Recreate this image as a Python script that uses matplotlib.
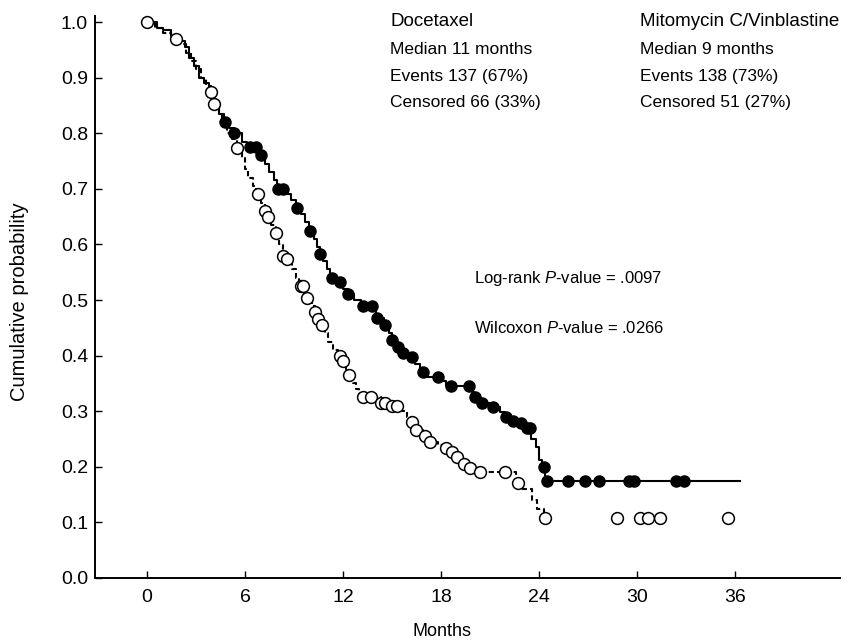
# Kaplan-Meier style survival plot, docetaxel vs mitomycin C/vinblastine
import numpy as np
import matplotlib
matplotlib.use('Agg')
import matplotlib.pyplot as plt

plt.rcParams['font.family'] = ['Liberation Sans', 'DejaVu Sans']
plt.rcParams['mathtext.fontset'] = 'custom'
plt.rcParams['mathtext.rm'] = 'Liberation Sans'
plt.rcParams['mathtext.it'] = 'Liberation Sans:italic'

# Docetaxel: step times (months) and survival from that time on
doc_t = [0, 0.6, 1.0, 1.5, 2.0, 2.3, 2.6, 2.9, 3.2, 3.5, 3.8, 4.1, 4.4, 4.7, 5.0,
         5.3, 5.8, 6.1, 6.9, 7.2, 7.5, 7.8, 7.95, 8.5, 8.8, 9.1, 9.4, 9.7, 9.9,
         10.2, 10.4, 10.6, 10.8, 11.0, 11.2, 11.5, 12.0, 12.3, 12.7, 13.1, 13.9,
         14.0, 14.5, 14.8, 15.0, 15.3, 15.6, 16.0, 16.4, 16.7, 17.0, 18.0, 18.3,
         19.9, 20.0, 20.4, 21.0, 21.6, 21.9, 22.3, 22.8, 23.2, 23.5, 23.8, 24.0,
         24.2, 24.4]
doc_s = [1.0, 0.99, 0.985, 0.975, 0.965, 0.955, 0.935, 0.92, 0.90, 0.89, 0.875,
         0.855, 0.835, 0.82, 0.81, 0.80, 0.785, 0.775, 0.76, 0.745, 0.73, 0.715,
         0.70, 0.69, 0.68, 0.665, 0.655, 0.64, 0.625, 0.61, 0.595, 0.583, 0.57,
         0.555, 0.54, 0.532, 0.52, 0.51, 0.50, 0.49, 0.48, 0.468, 0.455, 0.44,
         0.428, 0.415, 0.405, 0.398, 0.385, 0.37, 0.362, 0.355, 0.345, 0.335,
         0.325, 0.315, 0.307, 0.298, 0.29, 0.282, 0.278, 0.27, 0.25, 0.235,
         0.212, 0.20, 0.175]
doc_end = 36.3
doc_cens = [4.8, 5.3, 6.3, 6.7, 7.0, 8.0, 8.3, 9.2, 10.0, 10.6, 11.3, 11.8, 12.3,
            13.2, 13.8, 14.1, 14.6, 15.0, 15.4, 15.7, 16.2, 16.9, 17.8, 18.6,
            19.7, 20.1, 20.5, 21.2, 22.0, 22.4, 22.9, 23.3, 23.45, 24.3, 24.5,
            25.8, 26.8, 27.7, 29.5, 29.8, 32.4, 32.9]

# Mitomycin C / Vinblastine
mvp_t = [0, 0.5, 1.0, 1.5, 2.0, 2.4, 2.7, 3.0, 3.3, 3.6, 3.9, 4.1, 4.4, 4.6, 4.9,
         5.2, 5.5, 5.8, 6.0, 6.2, 6.5, 6.7, 7.0, 7.2, 7.4, 7.6, 7.9, 8.1, 8.3,
         8.6, 8.9, 9.1, 9.3, 9.6, 9.8, 10.1, 10.3, 10.5, 10.7, 10.9, 11.1, 11.4,
         11.7, 12.0, 12.2, 12.4, 12.6, 12.8, 13.0, 13.2, 14.3, 15.0, 15.6, 15.9,
         16.2, 16.5, 16.9, 17.3, 17.8, 18.2, 18.6, 19.0, 19.3, 19.7, 20.3, 22.6,
         22.9, 23.6, 23.9, 24.3]
mvp_s = [1.0, 0.99, 0.98, 0.97, 0.96, 0.945, 0.93, 0.915, 0.90, 0.885, 0.874,
         0.853, 0.835, 0.82, 0.80, 0.79, 0.774, 0.755, 0.735, 0.72, 0.705, 0.69,
         0.675, 0.66, 0.65, 0.635, 0.62, 0.60, 0.58, 0.573, 0.555, 0.54, 0.525,
         0.51, 0.503, 0.49, 0.478, 0.465, 0.455, 0.44, 0.425, 0.41, 0.40, 0.39,
         0.375, 0.365, 0.35, 0.34, 0.33, 0.325, 0.315, 0.31, 0.30, 0.29, 0.28,
         0.266, 0.255, 0.245, 0.24, 0.234, 0.227, 0.218, 0.205, 0.198, 0.19,
         0.171, 0.16, 0.14, 0.125, 0.108]
mvp_end = 24.4
mvp_cens = [0, 1.8, 3.9, 4.1, 5.5, 6.8, 7.2, 7.4, 7.9, 8.3, 8.6, 9.4, 9.55, 9.8,
            10.3, 10.5, 10.7, 11.8, 12.0, 12.4, 13.2, 13.7, 14.3, 14.6, 15.0,
            15.3, 16.2, 16.5, 17.0, 17.3, 18.3, 18.7, 19.0, 19.4, 19.8, 20.4,
            21.9, 22.7, 24.4, 28.8, 30.2, 30.7, 31.4, 35.6]

x_ticks = [0, 6, 12, 18, 24, 30, 36]
y_ticks = [0.0, 0.1, 0.2, 0.3, 0.4, 0.5, 0.6, 0.7, 0.8, 0.9, 1.0]


def level_at(ts, ss, t):
    i = np.searchsorted(ts, t, side='right') - 1
    return np.asarray(ss)[i]


fig = plt.figure(figsize=(8.59, 6.4), dpi=100)
ax = fig.add_axes([95 / 859, 1 - 578 / 640, 745 / 859, 562 / 640])

# curves
ax.step(doc_t + [doc_end], doc_s + [doc_s[-1]], where='post', color='black',
        lw=1.5, zorder=2)
ax.step(mvp_t + [mvp_end], mvp_s + [mvp_s[-1]], where='post', color='black',
        lw=1.5, ls=(0, (2.5, 1.5)), zorder=2)

ax.plot(doc_cens, level_at(doc_t, doc_s, doc_cens), 'o', ms=8, mfc='black',
        mec='black', clip_on=False, zorder=3)
ax.plot(mvp_cens, level_at(mvp_t, mvp_s, mvp_cens), 'o', ms=8.5, mfc='white',
        mec='black', mew=1.1, clip_on=False, zorder=4)

x0 = -52 / 16.33
ax.set_xlim(x0, x0 + 745 / 16.33)
ax.set_ylim(0, 1.0108)
ax.set_xticks(x_ticks)
ax.set_yticks(y_ticks)
ax.set_yticklabels([f'{v:.1f}' for v in y_ticks])
ax.tick_params(direction='in', length=5, width=1, labelsize=14, pad=5)
ax.tick_params(axis='x', pad=8)
for sp in ('top', 'right'):
    ax.spines[sp].set_visible(False)
for sp in ('left', 'bottom'):
    ax.spines[sp].set_linewidth(1.4)

ax.set_xlabel('Months', fontsize=13, va='center')
ax.xaxis.set_label_coords(442 / 859, 1 - 632 / 640, transform=fig.transFigure)
ax.set_ylabel('Cumulative probability', fontsize=14.5, va='center')
ax.yaxis.set_label_coords(20 / 859, 1 - 302 / 640, transform=fig.transFigure)

# group summaries
def fig_text(px, py, s, size):
    fig.text(px / 859, 1 - py / 640, s, fontsize=size, ha='left', va='center')

fig_text(390, 22, 'Docetaxel', 13.5)
fig_text(390, 49, 'Median 11 months', 12.5)
fig_text(390, 76, 'Events 137 (67%)', 12.5)
fig_text(390, 103, 'Censored 66 (33%)', 12.5)
fig_text(640, 22, 'Mitomycin C/Vinblastine', 13.5)
fig_text(640, 49, 'Median 9 months', 12.5)
fig_text(640, 76, 'Events 138 (73%)', 12.5)
fig_text(640, 103, 'Censored 51 (27%)', 12.5)
fig_text(474, 278, r'Log-rank $P$-value = .0097', 12)
fig_text(474, 328, r'Wilcoxon $P$-value = .0266', 12)

fig.savefig('out.png', dpi=100, facecolor='white')
